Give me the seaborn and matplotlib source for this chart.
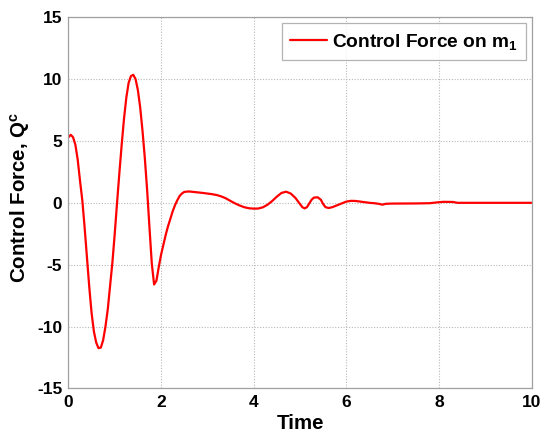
import pandas as pd
import seaborn as sns
import matplotlib.pyplot as plt
import matplotlib.ticker as ticker

# control force readings
time = [0.00, 0.05, 0.10, 0.15, 0.20, 0.25, 0.30, 0.35, 0.40, 0.45,
        0.50, 0.55, 0.60, 0.65, 0.70, 0.75, 0.80, 0.85, 0.90, 0.95,
        1.00, 1.05, 1.10, 1.15, 1.20, 1.25, 1.30, 1.35, 1.40, 1.45,
        1.50, 1.55, 1.60, 1.65, 1.70, 1.75, 1.80, 1.85, 1.90, 1.95,
        2.00, 2.05, 2.10, 2.15, 2.20, 2.25, 2.30, 2.35, 2.40, 2.45,
        2.50, 2.60, 2.70, 2.80, 2.90, 3.00, 3.10, 3.20, 3.30, 3.40,
        3.50, 3.60, 3.70, 3.80, 3.90, 4.00, 4.10, 4.20, 4.30, 4.40,
        4.50, 4.60, 4.70, 4.80, 4.90, 5.00, 5.05, 5.10, 5.15, 5.20,
        5.25, 5.30, 5.38, 5.45, 5.50, 5.55, 5.62, 5.70, 5.80, 5.90,
        6.00, 6.10, 6.20, 6.30, 6.40, 6.50, 6.60, 6.70, 6.78, 6.85,
        7.00, 7.50, 7.80, 8.00, 8.10, 8.30, 8.40, 9.00, 10.00]
force = [5.3, 5.5, 5.3, 4.7, 3.5, 1.8, 0.2, -2.0, -4.4, -6.8,
         -8.9, -10.4, -11.3, -11.75, -11.7, -11.1, -10.0, -8.6, -6.7, -4.8,
         -2.5, 0.0, 2.4, 4.7, 6.8, 8.5, 9.7, 10.25, 10.35, 10.0,
         9.1, 7.7, 5.8, 3.6, 1.0, -2.0, -4.9, -6.6, -6.3, -5.2,
         -4.2, -3.4, -2.6, -1.9, -1.3, -0.7, -0.2, 0.2, 0.55, 0.75,
         0.88, 0.92, 0.88, 0.84, 0.80, 0.75, 0.70, 0.63, 0.52, 0.36,
         0.15, -0.05, -0.22, -0.36, -0.44, -0.47, -0.46, -0.36, -0.15, 0.15,
         0.50, 0.80, 0.90, 0.75, 0.40, -0.10, -0.35, -0.45, -0.35, -0.05,
         0.25, 0.42, 0.45, 0.25, -0.10, -0.35, -0.42, -0.35, -0.20, -0.05,
         0.10, 0.16, 0.15, 0.10, 0.05, 0.00, -0.03, -0.08, -0.15, -0.08,
         -0.06, -0.05, -0.03, 0.05, 0.08, 0.07, 0.0, 0.0, 0.0]

df = pd.DataFrame({'Time': time, 'Force': force})

sns.set_style("white")
plt.rcParams['font.family'] = ['Liberation Sans', 'DejaVu Sans']
plt.rcParams['font.weight'] = 'bold'
plt.rcParams['axes.unicode_minus'] = False
plt.rcParams['text.color'] = 'black'
plt.rcParams['axes.labelcolor'] = 'black'
plt.rcParams['xtick.color'] = 'black'
plt.rcParams['ytick.color'] = 'black'
plt.rcParams['mathtext.fontset'] = 'custom'
plt.rcParams['mathtext.rm'] = 'Liberation Sans:bold'
plt.rcParams['mathtext.it'] = 'Liberation Sans:bold'
plt.rcParams['mathtext.bf'] = 'Liberation Sans:bold'
plt.rcParams['mathtext.default'] = 'rm'

fig = plt.figure(figsize=(5.43, 4.32), dpi=100)
ax = fig.add_axes([0.126, 0.101, 0.853, 0.859])
sns.lineplot(data=df, x='Time', y='Force', color='#ff0000', linewidth=1.6,
             label=r'Control Force on m$_1$', ax=ax)

ax.set_xlim(0, 10)
ax.set_ylim(-15, 15)
ax.xaxis.set_major_locator(ticker.MultipleLocator(2))
ax.yaxis.set_major_locator(ticker.MultipleLocator(5))
ax.grid(True, color='#b8b8b8', linestyle=(0, (1, 1.5)), linewidth=0.8)
for s in ax.spines.values():
    s.set_color('#a0a0a0')
    s.set_linewidth(0.9)
ax.tick_params(labelsize=12.5, length=0, pad=4.5, colors='black')
for lab in ax.get_xticklabels() + ax.get_yticklabels():
    lab.set_fontweight('bold')
ax.set_xlabel('Time', fontsize=14.8, fontweight='bold', labelpad=3)
ax.set_ylabel(r'Control Force, Q$^c$', fontsize=14.8, fontweight='bold')
ax.yaxis.set_label_coords(-0.078, 0.515)

leg = ax.legend(loc='upper right', fontsize=13.8, frameon=True, fancybox=False,
                edgecolor='#a0a0a0', borderaxespad=0.3, handlelength=1.9,
                handletextpad=0.25, borderpad=0.45)
leg.get_frame().set_linewidth(0.9)
for t in leg.get_texts():
    t.set_fontweight('bold')

plt.savefig('out.png', dpi=100)
